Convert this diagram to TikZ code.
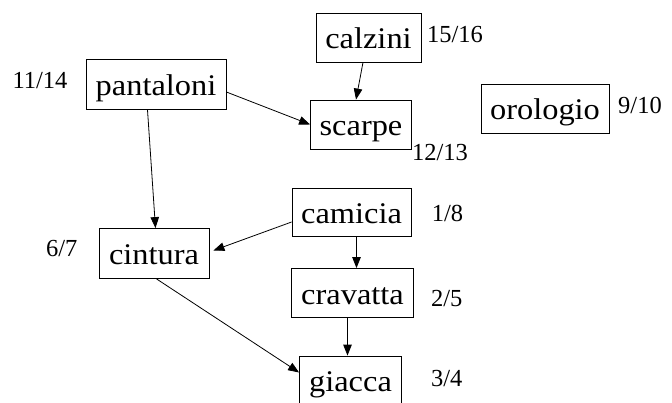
\documentclass[tikz,border=0pt]{standalone}
\usepackage{fontspec}
\setmainfont{Liberation Serif}
\newfontfamily\garmentfont[FakeStretch=1.08]{Liberation Serif}
\usetikzlibrary{arrows.meta}
\begin{document}
\begin{tikzpicture}[x=1pt,y=1pt,
  item/.style={draw,line width=0.8pt,inner sep=0pt,align=center,
    text height=22pt,text depth=0pt,
    font=\garmentfont\fontsize{30}{36}\selectfont},
  stamp/.style={font=\fontsize{24.5}{29}\selectfont,inner sep=0pt,anchor=base},
  link/.style={line width=0.8pt,-{Triangle[length=11pt,width=8.5pt]}}]
\useasboundingbox (0,0) rectangle (672,402);
% garments
\node[item,minimum width=105pt,minimum height=49pt] (calzini) at (368.5,364.5) {calzini};
\node[item,minimum width=101pt,minimum height=49pt] (scarpe) at (361,277.5) {scarpe};
\node[item,minimum width=140pt,minimum height=50pt] (pantaloni) at (156,317.5) {pantaloni};
\node[item,minimum width=128pt,minimum height=49pt] (orologio) at (545,293) {orologio};
\node[item,minimum width=110pt,minimum height=50pt] (cintura) at (154,148.5) {cintura};
\node[item,minimum width=119pt,minimum height=48pt] (camicia) at (351.5,189.5) {camicia};
\node[item,minimum width=122pt,minimum height=49pt] (cravatta) at (352.5,109) {cravatta};
\node[item,minimum width=102pt,minimum height=49pt] (giacca) at (350.5,21.5) {giacca};
% discovery/finish times
\node[stamp] (t1) at (455,359.7) {15/16};
\node[stamp] (t2) at (40,313) {11/14};
\node[stamp] (t3) at (440,241.3) {12/13};
\node[stamp] (t4) at (640,288.7) {9/10};
\node[stamp] (t5) at (447.5,180.3) {1/8};
\node[stamp] (t6) at (61.7,145.7) {6/7};
\node[stamp] (t7) at (446.7,95.3) {2/5};
\node[stamp] (t8) at (446.7,15.3) {3/4};
% dependencies
\draw[link] ([xshift=-5.5pt]calzini.south) -- ([xshift=-5pt]scarpe.north);
\draw[link] ([yshift=-7.5pt]pantaloni.east) -- (scarpe.west);
\draw[link] ([xshift=-8.5pt]pantaloni.south) -- ([xshift=1.5pt]cintura.north);
\draw[link] ([yshift=-9.5pt]camicia.west) -- ([xshift=4pt,yshift=3pt]cintura.east);
\draw[link] ([xshift=5pt]camicia.south) -- ([xshift=4pt]cravatta.north);
\draw[link] ([xshift=-5pt]cravatta.south) -- ([xshift=-3pt]giacca.north);
\draw[link] ([xshift=2.5pt]cintura.south) -- ([yshift=8pt]giacca.west);
\end{tikzpicture}
\end{document}
